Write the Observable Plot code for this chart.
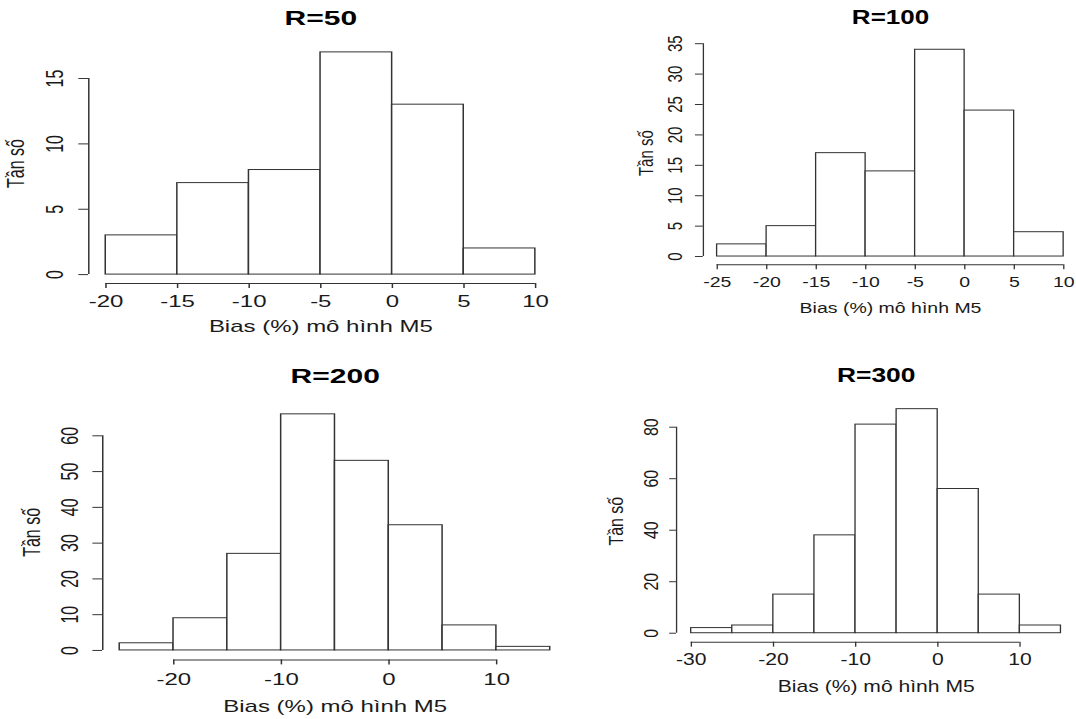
<!DOCTYPE html>
<html><head><meta charset="utf-8">
<script src="https://cdn.jsdelivr.net/npm/d3@7"></script>
<script src="https://cdn.jsdelivr.net/npm/@observablehq/plot@0.6"></script>
<style>
html,body{margin:0;padding:0;background:#fff;width:1076px;height:719px;overflow:hidden;}
#root{position:relative;width:1076px;height:719px;overflow:hidden;}
.panel{position:absolute;transform-origin:0 0;}
</style></head><body><div id="root"></div>
<script>
// ---- data ----
const titles = ["R=50", "R=100", "R=200", "R=300"];
const xLabel = "Bias (%) mô hình M5";
const yLabel = "Tần số";

const breaks50 = [-20, -15, -10, -5, 0, 5, 10];
const counts50 = [3, 7, 8, 17, 13, 2];
const xTicks50 = [-20, -15, -10, -5, 0, 5, 10];
const yTicks50 = [0, 5, 10, 15];

const breaks100 = [-25, -20, -15, -10, -5, 0, 5, 10];
const counts100 = [2, 5, 17, 14, 34, 24, 4];
const xTicks100 = [-25, -20, -15, -10, -5, 0, 5, 10];
const yTicks100 = [0, 5, 10, 15, 20, 25, 30, 35];

const breaks200 = [-25, -20, -15, -10, -5, 0, 5, 10, 15];
const counts200 = [2, 9, 27, 66, 53, 35, 7, 1];
const xTicks200 = [-20, -10, 0, 10];
const yTicks200 = [0, 10, 20, 30, 40, 50, 60];

const breaks300 = [-30, -25, -20, -15, -10, -5, 0, 5, 10, 15];
const counts300 = [2, 3, 15, 38, 81, 87, 56, 15, 3];
const xTicks300 = [-30, -20, -10, 0, 10];
const yTicks300 = [0, 20, 40, 60, 80];

// ---- layout (positions / styles only) ----
const layouts = [
  {left: 0, top: 0, w: 560, h: 355, s: 1.5, ml: 58.7, mr: 5.3, mt: 43, mb: 72,
   tickFont: 16, labFont: 16, yTick: 6.5, yPad: 10.8, xTick: 5, xPad: 7.3, ylabDx: -48, xlabDy: 43, titleDy: -24.7},
  {left: 560, top: 0, w: 520, h: 340, s: 1.3, ml: 109.8, mr: 2.3, mt: 41, mb: 75.7,
   tickFont: 15, labFont: 15, yTick: 6, yPad: 10.2, xTick: 5, xPad: 6.8, ylabDx: -43.7, xlabDy: 43.7, titleDy: -23.5},
  {left: 0, top: 360, w: 580, h: 359, s: 1.5, ml: 68, mr: 8.7, mt: 44.4, mb: 59.6,
   tickFont: 16, labFont: 16, yTick: 6.4, yPad: 10.3, xTick: 5, xPad: 8.9, ylabDx: -46.7, xlabDy: 47, titleDy: -28},
  {left: 560, top: 360, w: 520, h: 359, s: 1.32, ml: 87.8, mr: 3.6, mt: 39.7, mb: 77.3,
   tickFont: 16, labFont: 16, yTick: 5.1, yPad: 9.3, xTick: 5, xPad: 6.6, ylabDx: -45.4, xlabDy: 45, titleDy: -24.7}
];

const lineColor = "#333";
const textColor = "#1a1a1a";
const font = "'Liberation Sans', Arial, Helvetica, sans-serif";

function histPanel(L, title, breaks, counts, xTicks, yTicks) {
  const bins = counts.map((c, i) => ({x1: breaks[i], x2: breaks[i + 1], count: c}));
  const xmin = breaks[0], xmax = breaks[breaks.length - 1];
  const ymax = d3.max(counts);
  const xr = xmax - xmin;
  const xdom = [xmin - 0.04 * xr, xmax + 0.04 * xr];
  const ydom = [-0.04 * ymax, 1.04 * ymax];
  const plot = Plot.plot({
    width: L.w / L.s,
    height: L.h,
    marginLeft: L.ml, marginRight: L.mr, marginTop: L.mt, marginBottom: L.mb,
    style: {fontFamily: font, color: textColor, background: "transparent", overflow: "visible"},
    x: {domain: xdom, axis: null},
    y: {domain: ydom, axis: null},
    marks: [
      Plot.rect(bins, {x1: "x1", x2: "x2", y1: 0, y2: "count", fill: "white", stroke: lineColor, strokeWidth: 1}),
      // axis lines (R style: from first to last tick, at the plot-region edge)
      Plot.ruleY([ydom[0]], {x1: xTicks[0], x2: xTicks[xTicks.length - 1], stroke: lineColor, strokeWidth: 1}),
      Plot.ruleX([xdom[0]], {y1: yTicks[0], y2: yTicks[yTicks.length - 1], stroke: lineColor, strokeWidth: 1}),
      Plot.axisX(xTicks, {anchor: "bottom", tickSize: L.xTick, tickPadding: L.xPad, fontSize: L.tickFont,
        stroke: lineColor, fill: textColor, label: null, tickFormat: d => String(d).replace("−", "-")}),
      Plot.axisY(yTicks, {anchor: "left", tickSize: L.yTick, tickPadding: L.yPad, tickRotate: -90,
        fontSize: L.tickFont, stroke: lineColor, fill: textColor, label: null}),
      Plot.text([title], {frameAnchor: "top", dy: L.titleDy, lineAnchor: "middle", fontSize: 20,
        fontWeight: "bold", fill: "#000"}),
      Plot.text([xLabel], {frameAnchor: "bottom", dy: L.xlabDy, lineAnchor: "middle", fontSize: L.labFont, fill: textColor}),
      Plot.text([yLabel], {frameAnchor: "left", dx: L.ylabDx, rotate: -90, lineAnchor: "middle",
        textAnchor: "middle", fontSize: L.labFont, fill: textColor})
    ]
  });
  const div = document.createElement("div");
  div.className = "panel";
  div.style.left = L.left + "px";
  div.style.top = L.top + "px";
  div.style.transform = `scaleX(${L.s})`;
  div.appendChild(plot);
  document.getElementById("root").appendChild(div);
}

histPanel(layouts[0], titles[0], breaks50, counts50, xTicks50, yTicks50);
histPanel(layouts[1], titles[1], breaks100, counts100, xTicks100, yTicks100);
histPanel(layouts[2], titles[2], breaks200, counts200, xTicks200, yTicks200);
histPanel(layouts[3], titles[3], breaks300, counts300, xTicks300, yTicks300);
</script>
</body></html>
